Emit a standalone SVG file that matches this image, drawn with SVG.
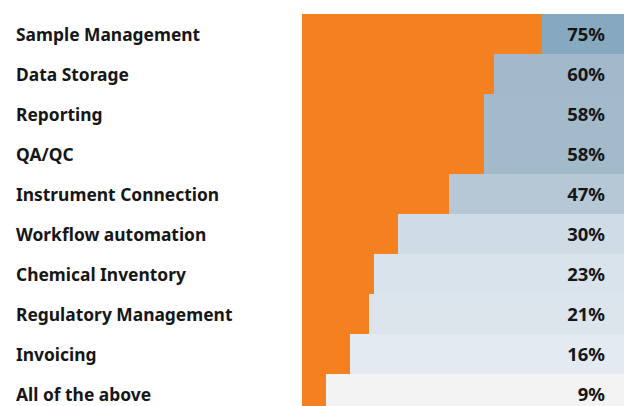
<svg xmlns="http://www.w3.org/2000/svg" width="624" height="406" viewBox="0 0 624 406">
<style>
.lbl{font-family:"Noto Sans","Liberation Sans",sans-serif;font-weight:700;font-size:17.4px;fill:#161616}
.pct{font-family:"Noto Sans","Liberation Sans",sans-serif;font-weight:700;font-size:18.5px;fill:#161616;text-anchor:end}
.bar{fill:#F58020}
</style>
<rect width="624" height="406" fill="#ffffff"/>
<g id="rows">
<g id="row1"><rect x="302" y="14" width="322" height="40" fill="#87A9BF"/><rect class="bar" x="302" y="14" width="240" height="40"/><text class="lbl" x="16" y="41">Sample Management</text><text class="pct" x="605" y="41">75%</text></g>
<g id="row2"><rect x="302" y="54" width="322" height="40" fill="#A1B9CA"/><rect class="bar" x="302" y="54" width="192" height="40"/><text class="lbl" x="16" y="81">Data Storage</text><text class="pct" x="605" y="81">60%</text></g>
<g id="row3"><rect x="302" y="94" width="322" height="40" fill="#A3BACB"/><rect class="bar" x="302" y="94" width="182" height="40"/><text class="lbl" x="16" y="121">Reporting</text><text class="pct" x="605" y="121">58%</text></g>
<g id="row4"><rect x="302" y="134" width="322" height="40" fill="#A3BACB"/><rect class="bar" x="302" y="134" width="182" height="40"/><text class="lbl" x="16" y="161">QA/QC</text><text class="pct" x="605" y="161">58%</text></g>
<g id="row5"><rect x="302" y="174" width="322" height="40" fill="#B6C8D6"/><rect class="bar" x="302" y="174" width="147" height="40"/><text class="lbl" x="16" y="201">Instrument Connection</text><text class="pct" x="605" y="201">47%</text></g>
<g id="row6"><rect x="302" y="214" width="322" height="40" fill="#CFDCE6"/><rect class="bar" x="302" y="214" width="96" height="40"/><text class="lbl" x="16" y="241">Workflow automation</text><text class="pct" x="605" y="241">30%</text></g>
<g id="row7"><rect x="302" y="254" width="322" height="40" fill="#D9E3EB"/><rect class="bar" x="302" y="254" width="72" height="40"/><text class="lbl" x="16" y="281">Chemical Inventory</text><text class="pct" x="605" y="281">23%</text></g>
<g id="row8"><rect x="302" y="294" width="322" height="40" fill="#DCE4EC"/><rect class="bar" x="302" y="294" width="67" height="40"/><text class="lbl" x="16" y="321">Regulatory Management</text><text class="pct" x="605" y="321">21%</text></g>
<g id="row9"><rect x="302" y="334" width="322" height="40" fill="#E4EAF1"/><rect class="bar" x="302" y="334" width="48" height="40"/><text class="lbl" x="16" y="361">Invoicing</text><text class="pct" x="605" y="361">16%</text></g>
<g id="row10"><rect x="302" y="374" width="322" height="32" fill="#F3F3F3"/><rect class="bar" x="302" y="374" width="24" height="32"/><text class="lbl" x="16" y="401">All of the above</text><text class="pct" x="605" y="401">9%</text></g>
</g>
<g id="connectors"/>
</svg>
